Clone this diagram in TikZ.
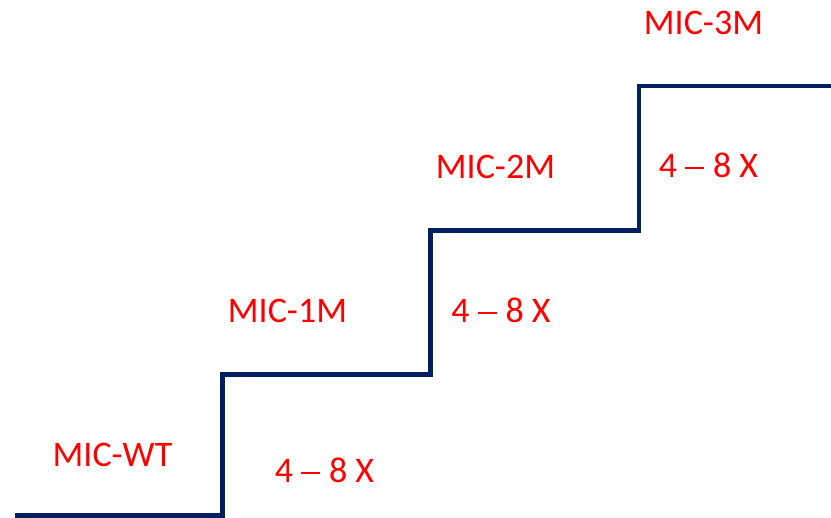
\documentclass[tikz,border=0pt]{standalone}
\usepackage{fontspec}
\setmainfont{Carlito}
\usepackage{tikz}
\usetikzlibrary{calc,positioning}
\definecolor{stairblue}{HTML}{002060}
\newcommand{\foldrange}{4\hspace{8pt}\rule[8.6pt]{19pt}{2.8pt}\hspace{9pt}8 X}
\tikzset{
  stair/.style={line width=4.5pt,stairblue,line join=miter},
  miclabel/.style={text=red,inner sep=0pt,anchor=base,font=\fontsize{36}{43}\selectfont},
}

\begin{document}
\begin{tikzpicture}[x=1pt,y=-1pt]
\useasboundingbox (0,0) rectangle (831,518);
\coordinate (S0) at (15,515.5);
\coordinate (S1) at (222.5,515.5);
\coordinate (S2) at (222.5,374.5);
\coordinate (S3) at (430.5,374.5);
\coordinate (S4) at (430.5,230.5);
\coordinate (S5) at (639,230.5);
\coordinate (S6) at (639,86);
\coordinate (S7) at (831,86);
\draw[stair] (S0) -- (S1) -- (S2) -- (S3) -- (S4) -- (S5) -- (S6) -- (S7);
\node[miclabel] (wt) at (112.5,467) {MIC-WT};
\node[miclabel] (m1) at (287.5,323) {MIC-1M};
\node[miclabel] (m2) at (495.5,179) {MIC-2M};
\node[miclabel] (m3) at (703.5,35) {MIC-3M};
\node[miclabel,text=red] (x1) at (324.5,483) {\color{red}\foldrange};
\node[miclabel] (x2) at (501,323) {\color{red}\foldrange};
\node[miclabel] (x3) at (708.5,178) {\color{red}\foldrange};
\end{tikzpicture}
\end{document}
